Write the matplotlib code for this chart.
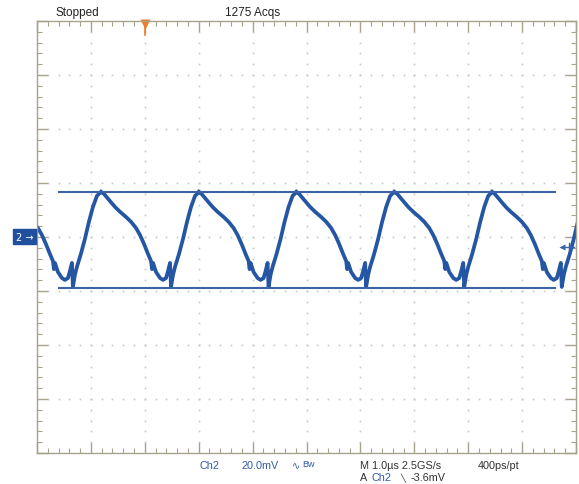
import numpy as np
import matplotlib
matplotlib.use("Agg")
import matplotlib.pyplot as plt
from matplotlib.ticker import MultipleLocator
import matplotlib.patches as mpatches

# one cycle of the Ch2 trace (time from the peak in us, level in mV)
cycle_t_us = [0.0, 0.056, 0.148, 0.259, 0.352, 0.463, 0.556, 0.648, 0.722, 0.796,
              0.870, 0.926, 0.944, 0.963, 1.019, 1.093, 1.148, 1.204, 1.241, 1.278,
              1.296, 1.333, 1.370, 1.444, 1.519, 1.593, 1.667, 1.741, 1.815]
cycle_mv = [16.7, 15.9, 13.7, 11.1, 9.3, 7.4, 5.6, 3.3, 0.7, -2.6,
            -6.3, -8.9, -11.9, -9.6, -13.0, -15.2, -15.9, -15.2, -12.6, -9.6,
            -18.5, -14.1, -11.1, -6.3, -0.7, 5.6, 11.1, 15.2, 16.7]
# time of each peak on screen (us, trigger at 0)
peak_times_us = [-2.63, -0.81, 1.00, 2.81, 4.63, 6.44]

cursor_mv = [16.7, -18.9]
cursor_span_us = [-1.59, 7.61]
trig_level_mv = -3.6

header_left = "Stopped"
header_right = "1275 Acqs"

BORDER = "#a8a18c"
TRACE = "#2456a4"
CURSOR = "#3b63a6"
CHBLUE = "#2f5ba8"

plt.rcParams['font.family'] = ['Liberation Sans Narrow', 'Liberation Sans', 'DejaVu Sans']

W, H = 579, 485
fig = plt.figure(figsize=(W / 100, H / 100), dpi=100)
fig.patch.set_facecolor("white")

left, right, top, bottom = 37, 576, 22, 454
ax = fig.add_axes([left / W, 1 - bottom / H, (right - left) / W, (bottom - top) / H])
ax.set_xlim(-2, 8)
ax.set_ylim(-80, 80)

# graticule: dotted lines on each division
for gx in np.arange(-1, 8, 1.0):
    ys = np.arange(-80, 80.1, 4.0)
    ax.plot([gx] * len(ys), ys, ls="none", marker="s", ms=1.2, color="#c8c8c8", mec="none")
for gy in np.arange(-60, 61, 20.0):
    xs = np.arange(-2, 8.01, 0.2)
    ax.plot(xs, [gy] * len(xs), ls="none", marker="s", ms=1.2, color="#c8c8c8", mec="none")

for s in ax.spines.values():
    s.set_color(BORDER)
    s.set_linewidth(1.0)
ax.xaxis.set_major_locator(MultipleLocator(1))
ax.xaxis.set_minor_locator(MultipleLocator(0.2))
ax.yaxis.set_major_locator(MultipleLocator(20))
ax.yaxis.set_minor_locator(MultipleLocator(4))
ax.tick_params(which="both", direction="in", top=True, right=True, color=BORDER,
               labelbottom=False, labelleft=False)
ax.tick_params(which="major", length=8, width=1.0)
ax.tick_params(which="minor", length=3.5, width=0.8)

# trace
for pk in peak_times_us:
    t = [pk + v for v in cycle_t_us]
    ax.plot(t, cycle_mv, color=TRACE, lw=2.7, solid_joinstyle="round")

# cursors
for c in cursor_mv:
    ax.plot(cursor_span_us, [c, c], color=CURSOR, lw=1.5)

# trigger position marker
ax.plot([0, 0], [80, 75], color="#f07c28", lw=1.2, clip_on=False)
ax.plot(0, 79, marker="v", ms=7, color="#f07c28", mec="none", clip_on=False)

# trigger level marker on the right
ax.plot([7.72, 7.97], [trig_level_mv, trig_level_mv], color=CURSOR, lw=1.0, clip_on=False)
ax.plot(7.74, trig_level_mv, marker="<", ms=4, color=CURSOR, mec="none", clip_on=False)
ax.plot([7.87, 7.87], [trig_level_mv - 1.3, trig_level_mv + 1.3], color=CURSOR, lw=1.0)

# channel 2 ground marker
fig.patches.append(mpatches.Rectangle((13 / W, 1 - 245 / H), 23 / W, 15 / H,
                                      transform=fig.transFigure, color="#1f4f9e"))
fig.text(24.5 / W, 1 - 238 / H, "2 \u2192", color="white", fontsize=7,
         ha="center", va="center", family=["DejaVu Sans"])

# header
fig.text(55 / W, 1 - 13 / H, header_left, fontsize=8.5, ha="left", va="center", color="#222222")
fig.text(225 / W, 1 - 13 / H, header_right, fontsize=8.5, ha="left", va="center", color="#222222")

# footer
fs = 7.8
fig.text(200 / W, 1 - 466 / H, "Ch2", fontsize=fs, color=CHBLUE, va="center")
fig.text(242 / W, 1 - 466 / H, "20.0mV", fontsize=fs, color=CHBLUE, va="center")
fig.text(292 / W, 1 - 466 / H, "\u223f", fontsize=7, color=CHBLUE, va="center",
         family=["DejaVu Sans"])
fig.text(302 / W, 1 - 465 / H, "Bw", fontsize=6.5, color=CHBLUE, va="center")
fig.text(360 / W, 1 - 466 / H, "M 1.0\u00b5s 2.5GS/s", fontsize=fs, color="#333333", va="center")
fig.text(478 / W, 1 - 466 / H, "400ps/pt", fontsize=fs, color="#333333", va="center")
fig.text(360 / W, 1 - 478 / H, "A", fontsize=fs, color="#333333", va="center")
fig.text(372 / W, 1 - 478 / H, "Ch2", fontsize=fs, color=CHBLUE, va="center")
fig.text(400 / W, 1 - 478 / H, "\u2572", fontsize=6, color="#333333", va="center",
         family=["DejaVu Sans"])
fig.text(411 / W, 1 - 478 / H, "-3.6mV", fontsize=fs, color="#333333", va="center")

fig.savefig("out.png", dpi=100, facecolor="white")
